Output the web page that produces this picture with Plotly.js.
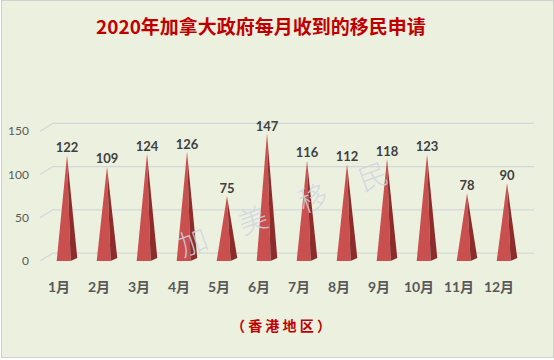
<!DOCTYPE html>
<html>
<head>
<meta charset="utf-8">
<script src="https://cdn.plot.ly/plotly-3.0.1.min.js"></script>
<style>
html,body{margin:0;padding:0;background:#ffffff;}
#chart{position:absolute;left:1px;top:0px;width:551px;height:356px;border:1px solid #D0D0D0;}
</style>
</head>
<body>
<div id="chart"></div>
<script>
const months = ["1月","2月","3月","4月","5月","6月","7月","8月","9月","10月","11月","12月"];
const applications = [122,109,124,126,75,147,116,112,118,123,78,90];
const yTicks = [0,50,100,150];
const titleText = "2020年加拿大政府每月收到的移民申请";
const subtitleText = "（ 香 港 地 区 ）";
const watermarkText = "加\u3000\u2009美\u3000\u2009移\u3000\u2009民";

const FRONT = "#C9504F", SIDE = "#8C2D2C";
const idx = months.map((m,i)=>i);
const traces = [];
// cone geometry offsets (category units / value units)
const apexDx = 0.2, leftDx = -0.058, midDx = 0.29, rightDx = 0.457, sideLift = 3.5;
applications.forEach((v,i)=>{
  traces.push({type:'scatter',mode:'lines',fill:'toself',fillcolor:FRONT,
    line:{width:0,color:FRONT},hoverinfo:'skip',showlegend:false,
    x:[i+leftDx,i+apexDx,i+midDx,i+leftDx],y:[0,v,0,0]});
  traces.push({type:'scatter',mode:'lines',fill:'toself',fillcolor:SIDE,
    line:{width:0,color:SIDE},hoverinfo:'skip',showlegend:false,
    x:[i+midDx,i+apexDx,i+rightDx,i+midDx],y:[0,v,sideLift,0]});
});
traces.push({type:'scatter',mode:'text',x:idx.map(i=>i+apexDx),y:applications,
  text:applications.map(String),textposition:'top center',cliponaxis:false,
  textfont:{family:'Lato, Liberation Sans, sans-serif',size:13,color:'#404040',weight:700},
  hoverinfo:'skip',showlegend:false});

const gridOff = 9.2;
const shapes = yTicks.map(t=>({type:'path',xref:'paper',yref:'y',layer:'below',
  path:`M 0.0099,${t} L 0.0356,${t+gridOff} L 0.988,${t+gridOff}`,
  line:{color:'#D4D7DA',width:1.3}}));

const layout = {
  width:551,height:356,
  paper_bgcolor:'#EBF0DF',plot_bgcolor:'rgba(0,0,0,0)',
  margin:{l:33,r:13,t:109,b:87},
  showlegend:false,
  xaxis:{range:[-0.6,12.025],tickmode:'array',tickvals:idx,ticktext:months,
    showgrid:false,zeroline:false,showline:false,ticks:'',ticklabelstandoff:7,
    tickfont:{family:'Lato, Noto Sans CJK SC, sans-serif',size:14,color:'#595959',weight:700},fixedrange:true},
  yaxis:{range:[-10.4,174.6],tickmode:'array',tickvals:yTicks,showgrid:false,zeroline:false,
    showline:false,ticks:'',ticklabelstandoff:5,
    tickfont:{family:'Lato, Liberation Sans, sans-serif',size:12,color:'#595959'},fixedrange:true},
  shapes:shapes,
  annotations:[
    {text:titleText,xref:'paper',yref:'paper',x:0.4475,y:1.53,xanchor:'center',yanchor:'middle',showarrow:false,
     font:{family:'Noto Sans CJK SC, sans-serif',size:19,color:'#C00000',weight:700}},
    {text:subtitleText,xref:'paper',yref:'paper',x:0.487,y:-0.344,xanchor:'center',yanchor:'middle',showarrow:false,
     font:{family:'Noto Sans CJK SC, sans-serif',size:14,color:'#C00000',weight:700}},
    {text:watermarkText,xref:'paper',yref:'paper',x:0.49,y:0.394,xanchor:'center',yanchor:'middle',showarrow:false,
     textangle:-20,font:{family:'Noto Sans CJK SC, sans-serif',size:29,color:'rgba(208,212,228,0.85)',weight:300}}
  ]
};
Plotly.newPlot('chart',traces,layout,{displayModeBar:false,staticPlot:true});
</script>
</body>
</html>
